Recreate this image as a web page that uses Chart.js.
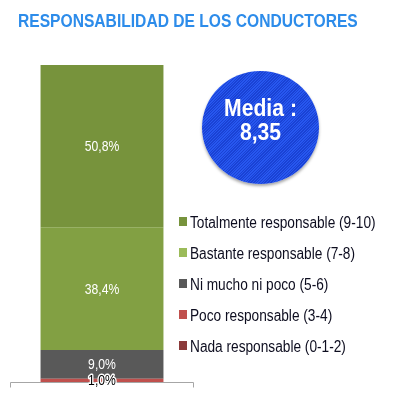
<!DOCTYPE html>
<html>
<head>
<meta charset="utf-8">
<script src="https://cdn.jsdelivr.net/npm/chart.js@4"></script>
<style>
  html, body { margin: 0; padding: 0; background: #fff; }
  #wrap { position: relative; width: 398px; height: 419px; overflow: hidden; font-family: "Liberation Sans", Arial, sans-serif; }
  #c { position: absolute; left: 0; top: 0; }
  #title { position: absolute; left: 18px; top: 13px; font-size: 17.8px; line-height: 17.8px; font-weight: bold; color: #2D8CEA; white-space: nowrap; transform: scaleX(0.878); transform-origin: 0 0; }
  #media { position: absolute; left: 202px; top: 71px; width: 117px; height: 113px; border-radius: 50%;
    background: repeating-linear-gradient(135deg, #2757ef 0px, #2757ef 1px, #1a42d4 1px, #1a42d4 2px);
    box-shadow: 0 2px 3px rgba(0,0,0,0.35); }
  .mt { position: absolute; left: 0; width: 117px; text-align: center; color: #fff; font-weight: bold; font-size: 23px; line-height: 23px; white-space: nowrap; transform: scaleX(0.92); transform-origin: 50% 0; }
</style>
</head>
<body>
<div id="wrap">
  <canvas id="c" width="398" height="419"></canvas>
  <div id="title"></div>
  <div id="media"><div class="mt" id="m1" style="top:26px"></div><div class="mt" id="m2" style="top:49.5px"></div></div>
</div>
<script>
// ---- data ----
const chartTitle = 'RESPONSABILIDAD DE LOS CONDUCTORES';
const categories = ['Responsabilidad'];
const seriesLabels = ['Nada responsable (0-1-2)', 'Poco responsable (3-4)', 'Ni mucho ni poco (5-6)', 'Bastante responsable (7-8)', 'Totalmente responsable (9-10)'];
const nadaValues = [0];
const pocoValues = [1.0];
const niMuchoValues = [9.0];
const bastanteValues = [38.4];
const totalmenteValues = [50.8];
const seriesColors = ['#8B3A3A', '#C0504D', '#595959', '#82A043', '#77933C'];
const legendColors = ['#8B3A3A', '#C0504D', '#595959', '#9BBB59', '#77933C'];
const mediaLabel = 'Media :';
const mediaValue = '8,35';

document.getElementById('title').textContent = chartTitle;
document.getElementById('m1').textContent = mediaLabel;
document.getElementById('m2').textContent = mediaValue;

const seriesValues = [nadaValues, pocoValues, niMuchoValues, bastanteValues, totalmenteValues];
const total = seriesValues.reduce((s, v) => s + v[0], 0);

function fmt(v) { return v.toFixed(1).replace('.', ',') + '%'; }

function drawScaledText(ctx, text, x, y, sx, align, stroke) {
  ctx.save();
  ctx.translate(x, y);
  ctx.scale(sx, 1);
  ctx.textAlign = align;
  if (stroke) { ctx.strokeText(text, 0, 0); }
  ctx.fillText(text, 0, 0);
  ctx.restore();
}

const axisPlugin = {
  id: 'axisLine',
  afterDatasetsDraw(chart) {
    const ctx = chart.ctx;
    const xs = chart.scales.x, ys = chart.scales.y;
    const y0 = Math.round(ys.getPixelForValue(0)) + 0.5;
    ctx.save();
    ctx.strokeStyle = '#A6A6A6';
    ctx.lineWidth = 1;
    ctx.beginPath();
    ctx.moveTo(xs.left + 0.5, y0 + 5);
    ctx.lineTo(xs.left + 0.5, y0);
    ctx.lineTo(xs.right - 0.5, y0);
    ctx.lineTo(xs.right - 0.5, y0 + 5);
    ctx.stroke();
    ctx.restore();
  }
};

const labelPlugin = {
  id: 'segLabels',
  afterDraw(chart) {
    const ctx = chart.ctx;
    ctx.save();
    ctx.font = '14.5px "Liberation Sans", Arial, sans-serif';
    ctx.textBaseline = 'middle';
    chart.data.datasets.forEach((ds, i) => {
      const meta = chart.getDatasetMeta(i);
      meta.data.forEach((bar, j) => {
        const v = ds.data[j];
        if (!v) return;
        const p = bar.getProps(['x', 'y', 'base'], true);
        const cy = (p.y + p.base) / 2;
        const small = Math.abs(p.base - p.y) < 10;
        if (small) {
          ctx.fillStyle = '#000';
          ctx.strokeStyle = '#fff';
          ctx.lineWidth = 3;
          ctx.lineJoin = 'round';
          drawScaledText(ctx, fmt(v), p.x, cy + 1, 0.84, 'center', true);
        } else {
          ctx.fillStyle = '#fff';
          drawScaledText(ctx, fmt(v), p.x, cy + 1, 0.84, 'center', false);
        }
      });
    });
    ctx.restore();
  }
};

const legendPlugin = {
  id: 'sideLegend',
  afterDraw(chart, args, opts) {
    const ctx = chart.ctx;
    ctx.save();
    ctx.font = '16px "Liberation Sans", Arial, sans-serif';
    ctx.textBaseline = 'alphabetic';
    const n = chart.data.datasets.length;
    for (let k = 0; k < n; k++) {
      const i = n - 1 - k;
      const ds = chart.data.datasets[i];
      const cy = opts.top + k * opts.step;
      ctx.fillStyle = legendColors[i];
      ctx.fillRect(opts.boxX, cy - 5, 8, 9);
      ctx.fillStyle = '#0d0d1f';
      drawScaledText(ctx, ds.label, opts.textX, cy + 5.5, 0.855, 'left', false);
    }
    ctx.restore();
  }
};

new Chart(document.getElementById('c'), {
  type: 'bar',
  data: {
    labels: categories,
    datasets: seriesLabels.map((lab, i) => ({
      label: lab,
      data: seriesValues[i],
      backgroundColor: seriesColors[i],
      borderWidth: 0,
      categoryPercentage: 1,
      barPercentage: 0.668
    }))
  },
  options: {
    responsive: false,
    animation: false,
    devicePixelRatio: 1,
    layout: { padding: { left: 10, top: 65, right: 204, bottom: 37 } },
    scales: {
      x: { stacked: true, display: false },
      y: { stacked: true, display: false, min: 0, max: total }
    },
    plugins: {
      legend: { display: false },
      tooltip: { enabled: false },
      sideLegend: { boxX: 179, textX: 190, top: 222, step: 31 }
    }
  },
  plugins: [axisPlugin, labelPlugin, legendPlugin]
});
</script>
</body>
</html>
